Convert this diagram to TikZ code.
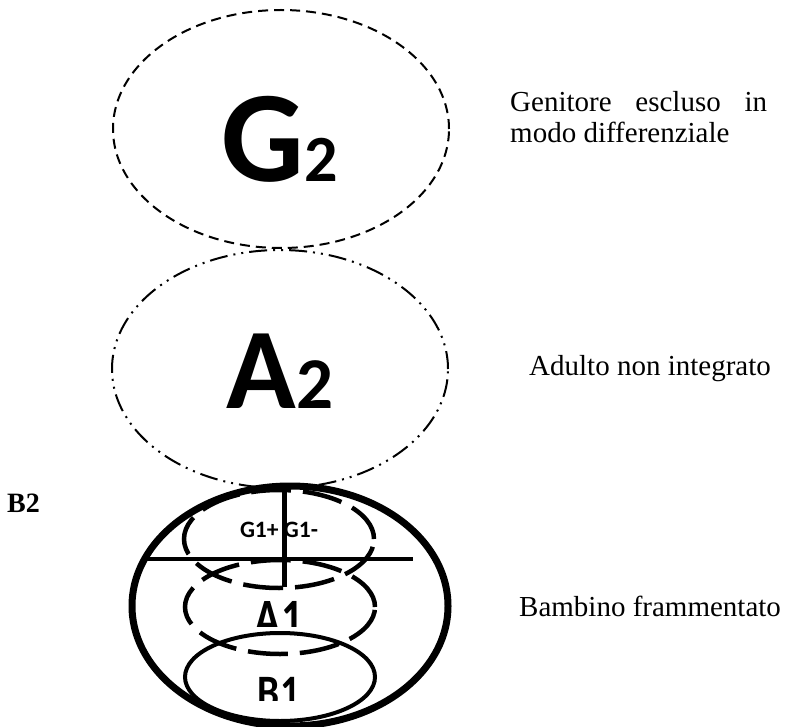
\documentclass[tikz,border=0pt]{standalone}
\usepackage{fontspec}
\setmainfont{Liberation Serif}
\newfontfamily\calibri{Carlito}
\usetikzlibrary{shapes.geometric,positioning}

\tikzset{
  ring/.style={ellipse, draw, inner sep=0pt},
  bigring/.style={ring, minimum width=336pt, minimum height=238pt, line width=2pt},
  innerring/.style={ring, minimum width=190pt, minimum height=96pt, line width=4.5pt},
  bigletter/.style={font=\calibri\bfseries, anchor=base, inner sep=0pt},
  caption/.style={font=\fontsize{29}{31}\selectfont, anchor=base west, inner sep=0pt}
}

\begin{document}
\begin{tikzpicture}[x=1pt, y=-1pt]
	\useasboundingbox (0,0) rectangle (786,727);

	% upper ellipses
	\node[bigring, dash pattern=on 10pt off 6pt] (g2) at (281,129) {};
	\node[bigring, dash pattern=on 18pt off 6pt on 2pt off 6pt on 2pt off 6pt] (a2) at (280,369) {};

	% child
	\node[ring, line width=7pt, minimum width=316pt, minimum height=240pt] (b2) at (290,606) {};
	\node[innerring, minimum height=98pt, dash pattern=on 40pt off 12pt] (g1) at (279,539) {};
	\node[innerring, minimum height=94pt, dash pattern=on 40pt off 12pt] (a1) at (280,607) {};
	\node[innerring, line width=4pt, minimum height=88pt] (b1) at (280,677) {};

	\coordinate (vtop) at (284,490);
	\coordinate (vbot) at (284,587);
	\coordinate (hl) at (147,559);
	\coordinate (hr) at (413,559);
	\draw[line width=5pt] (vtop) -- (vbot);
	\draw[line width=4.5pt] (hl) -- (hr);

	% labels
	\node[bigletter] (g2l) at (280,182) {\fontsize{130}{130}\selectfont G\fontsize{66}{66}\selectfont 2};
	\node[bigletter] (a2l) at (280,408) {\fontsize{115}{115}\selectfont A\fontsize{73}{73}\selectfont 2};
	\node[bigletter, font=\calibri\bfseries\fontsize{23.5}{23.5}\selectfont] (g1l) at (279,537) {G1+ G1-};
	\begin{scope}
		\clip (200,590) rectangle (360,626);
		\node[bigletter, font=\calibri\bfseries\fontsize{54}{54}\selectfont] (a1l) at (279,636) {\scalebox{0.8}[1]{A1}};
	\end{scope}
	\begin{scope}
		\clip (200,660) rectangle (360,700);
		\node[bigletter, font=\calibri\bfseries\fontsize{48}{48}\selectfont] (b1l) at (279,708) {\scalebox{0.82}[1]{B1}};
	\end{scope}

	\node[caption, font=\bfseries\fontsize{28}{30}\selectfont] (b2l) at (7,512) {B2};
	\node[caption] (cap1) at (510,112) {\makebox[257pt][s]{Genitore escluso in}};
	\node[caption] (cap2) at (510,143) {modo differenziale};
	\node[caption] (cap3) at (529,375) {Adulto non integrato};
	\node[caption] (cap4) at (519,616) {Bambino frammentato};
\end{tikzpicture}
\end{document}
